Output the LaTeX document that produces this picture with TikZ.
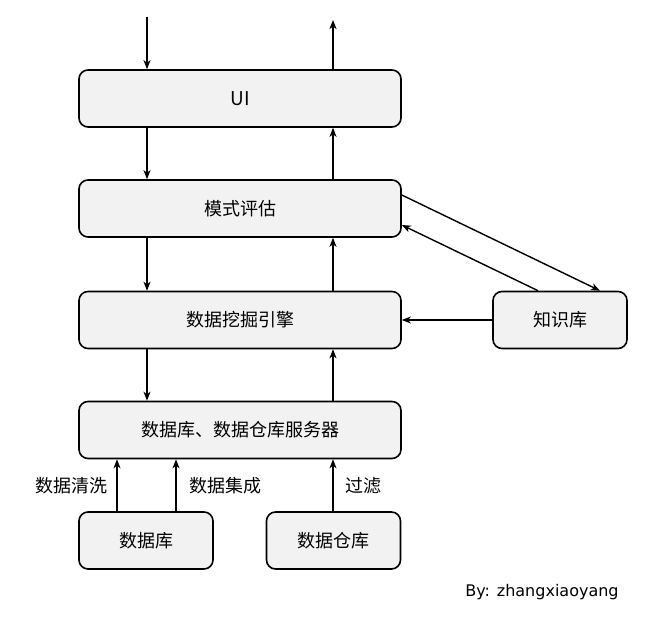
\documentclass[tikz,border=0pt]{standalone}
\usepackage{fontspec}
\setmainfont{Liberation Sans}
\newfontfamily\cjk{Noto Sans CJK SC}
\newfontfamily\byfont{DejaVu Sans}
\usetikzlibrary{arrows.meta}
\begin{document}
\begin{tikzpicture}[x=1pt,y=-1pt,
  box/.style={draw=black, line width=1.6pt, fill=black!5, rounded corners=9pt, minimum height=57pt, inner sep=0pt, font=\cjk\fontsize{18}{20}\selectfont},
  wide/.style={minimum width=322pt},
  small/.style={minimum width=134pt},
  arr/.style={-{Stealth[length=9pt,width=7pt,inset=2.5pt]}, line width=1.4pt},
  lab/.style={font=\cjk\fontsize{18}{20}\selectfont, inner sep=0pt}]
\useasboundingbox (0,0) rectangle (654,617);
\node[box,wide] (ui) at (240,98.5) {\fontsize{19}{20}\selectfont UI};
\node[box,wide] (ms) at (240,208.5) {模式评估};
\node[box,wide] (eng) at (240,320) {数据挖掘引擎};
\node[box,wide] (srv) at (240,430) {数据库、数据仓库服务器};
\node[box,small] (db) at (146,540.5) {数据库};
\node[box,small] (dw) at (333.5,540.5) {数据仓库};
\node[box,small] (kb) at (560,320) {知识库};
\coordinate (tin) at (147,17);
\coordinate (tout) at (333,20);
\coordinate (xl) at (147,0);
\coordinate (xr) at (333,0);
\coordinate (xa) at (117,0);
\coordinate (xb) at (176,0);
% verticals
\draw[arr] (tin) -- (ui.north -| tin);
\draw[arr] (ui.north -| tout) -- (tout);
\draw[arr] (ui.south -| xl) -- (ms.north -| xl);
\draw[arr] (ms.north -| xr) -- (ui.south -| xr);
\draw[arr] (ms.south -| xl) -- (eng.north -| xl);
\draw[arr] (eng.north -| xr) -- (ms.south -| xr);
\draw[arr] (eng.south -| xl) -- (srv.north -| xl);
\draw[arr] (srv.north -| xr) -- (eng.south -| xr);
\draw[arr] (db.north -| xa) -- (srv.south -| xa);
\draw[arr] (db.north -| xb) -- (srv.south -| xb);
\draw[arr] (dw.north -| xr) -- (srv.south -| xr);
% knowledge base
\coordinate (msr1) at (ms.east |- 0,195);
\coordinate (msr2) at (ms.east |- 0,225);
\coordinate (kbt1) at (kb.north -| 600,0);
\coordinate (kbt2) at (kb.north -| 538,0);
\draw[arr] (msr1) -- (kbt1);
\draw[arr] (kbt2) -- (msr2);
\draw[arr] (kb.west) -- (eng.east);
% labels
\node[lab] (l1) at (71,486) {数据清洗};
\node[lab] (l2) at (225,486) {数据集成};
\node[lab] (l3) at (363,486) {过滤};
\node[font=\byfont\fontsize{16}{18}\selectfont, inner sep=0pt] (by) at (542,592) {By: zhangxiaoyang};
\end{tikzpicture}
\end{document}
